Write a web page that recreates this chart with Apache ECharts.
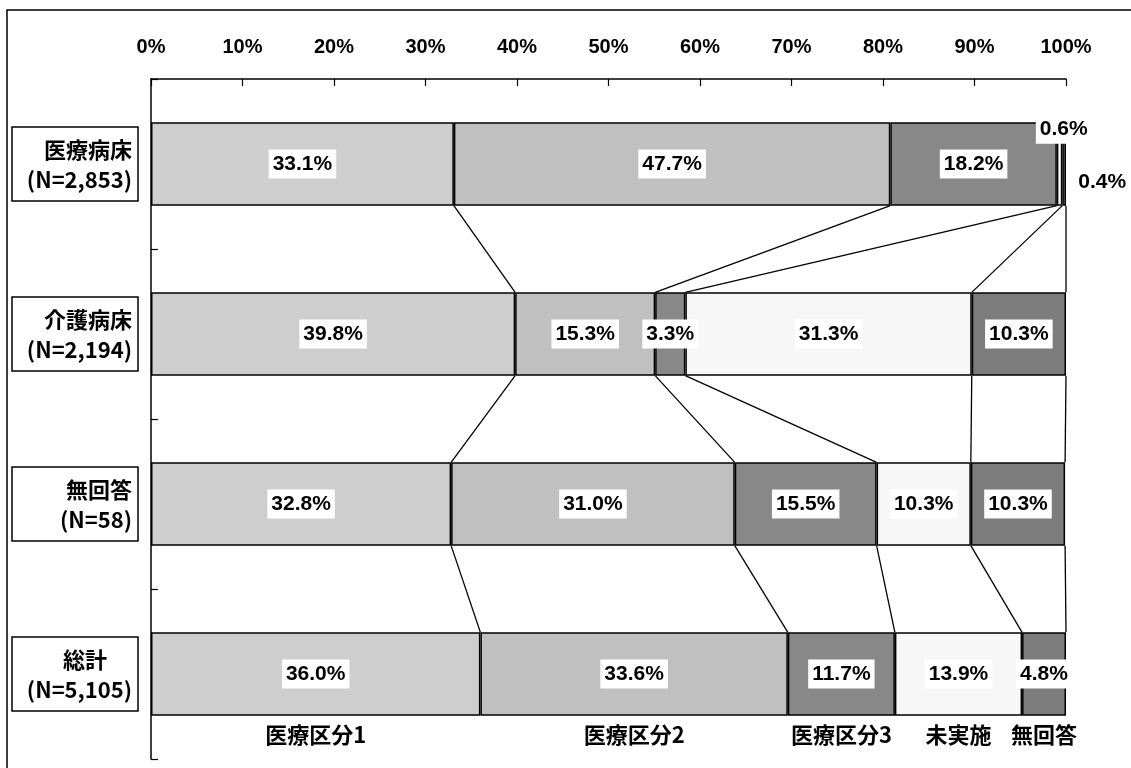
<!DOCTYPE html>
<html>
<head>
<meta charset="utf-8">
<script src="https://cdn.jsdelivr.net/npm/echarts@6/dist/echarts.min.js"></script>
<style>
html,body{margin:0;padding:0;background:#fff;}
#chart{width:1131px;height:768px;}
</style>
</head>
<body>
<div id="chart"></div>
<script>
// ---- data ----
const catNames = ['医療病床', '介護病床', '無回答', '総計'];
const catN = ['(N=2,853)', '(N=2,194)', '(N=58)', '(N=5,105)'];
const seriesNames = ['医療区分1', '医療区分2', '医療区分3', '未実施', '無回答'];
const kubun1 = [33.1, 39.8, 32.8, 36.0];
const kubun2 = [47.7, 15.3, 31.0, 33.6];
const kubun3 = [18.2, 3.3, 15.5, 11.7];
const mijisshi = [0.6, 31.3, 10.3, 13.9];
const mukaitou = [0.4, 10.3, 10.3, 4.8];
const xTicks = [0, 10, 20, 30, 40, 50, 60, 70, 80, 90, 100];

// ---- styling ----
const seriesValues = [kubun1, kubun2, kubun3, mijisshi, mukaitou];
const colors = ['#cecece', '#c0c0c0', '#888888', '#f7f7f7', '#7c7c7c'];
const BAR_RATIO = 0.49;
const NUM_FONT = '"Liberation Sans Narrow","Liberation Sans",Arial,sans-serif';
const JP_FONT = '"Noto Sans CJK JP","Noto Sans",sans-serif';

// per-item label overrides for the tiny segments (series index, category index)
const labelOverrides = {
  '3-0': { position: [-21, 7], align: 'left', verticalAlign: 'middle' },
  '4-0': { position: [12, 60], align: 'left', verticalAlign: 'middle', backgroundColor: 'transparent' }
};

const chart = echarts.init(document.getElementById('chart'), null, { renderer: 'canvas' });

// cumulative boundaries per category
const cum = catNames.map((_, ci) => {
  let s = 0;
  return seriesValues.map(v => (s += v[ci]));
});

const connectorData = [];
for (let ci = 0; ci < catNames.length - 1; ci++) {
  for (let k = 0; k < seriesValues.length; k++) {
    connectorData.push([cum[ci][k], cum[ci + 1][k], ci]);
  }
}

const last = catNames.length - 1;
const nameData = seriesValues.map((v, k) => {
  const end = cum[last][k];
  const start = end - v[last];
  return [(start + end) / 2, last, k];
});

const barSeries = seriesValues.map((vals, si) => ({
  name: seriesNames[si],
  type: 'bar',
  stack: 'total',
  barWidth: (BAR_RATIO * 100) + '%',
  itemStyle: { color: colors[si], borderColor: '#000', borderWidth: 1.5 },
  label: {
    show: true,
    position: 'inside',
    formatter: p => p.value.toFixed(1) + '%',
    color: '#000',
    fontFamily: NUM_FONT,
    fontWeight: 'bold',
    fontSize: 21,
    backgroundColor: '#fff',
    padding: [5, 4, 3, 4]
  },
  z: 3,
  data: vals.map((v, ci) => {
    const o = labelOverrides[si + '-' + ci];
    return o ? { value: v, label: o } : v;
  })
}));

const richBase = { fontFamily: JP_FONT, fontSize: 22, lineHeight: 30, color: '#000', fontWeight: 'bold', width: 114 };

const option = {
  animation: false,
  backgroundColor: '#fff',
  grid: { left: 151, right: 65, top: 79, bottom: 9, containLabel: false },
  xAxis: {
    type: 'value',
    position: 'top',
    min: 0, max: 100, interval: 10,
    axisLine: { show: true, lineStyle: { color: '#000', width: 1.5 } },
    axisTick: { show: true, inside: true, length: 7, lineStyle: { color: '#000', width: 1.2 } },
    splitLine: { show: false },
    axisLabel: {
      formatter: v => v + '%',
      color: '#000', fontFamily: NUM_FONT, fontWeight: 'bold', fontSize: 20, margin: 22
    }
  },
  yAxis: {
    type: 'category',
    inverse: true,
    data: catNames,
    axisLine: { show: true, lineStyle: { color: '#000', width: 1.5 } },
    axisTick: { show: true, inside: true, length: 7, lineStyle: { color: '#000', width: 1.2 } },
    axisLabel: {
      margin: 13,
      formatter: (v, i) => (i === last ? '{c|' : '{a|') + v + '}\n{b|' + catN[i] + '}',
      borderColor: '#000', borderWidth: 1.5,
      padding: [8, 6, 6, 6],
      width: 114,
      align: 'right',
      rich: {
        a: Object.assign({}, richBase, { align: 'right' }),
        b: Object.assign({}, richBase, { align: 'right' }),
        c: Object.assign({}, richBase, { align: 'center', padding: [0, 0, 0, 20] })
      }
    }
  },
  series: [
    ...barSeries,
    {
      type: 'custom',
      name: 'connectors',
      encode: { x: [0, 1], y: 2 },
      z: 2,
      silent: true,
      renderItem: (params, api) => {
        const ci = api.value(2);
        const p1 = api.coord([api.value(0), ci]);
        const p2 = api.coord([api.value(1), ci + 1]);
        const band = api.size([0, 1])[1];
        const half = band * BAR_RATIO / 2;
        return {
          type: 'line',
          shape: { x1: p1[0], y1: p1[1] + half, x2: p2[0], y2: p2[1] - half },
          style: { stroke: '#000', lineWidth: 1.3 }
        };
      },
      data: connectorData
    },
    {
      type: 'custom',
      name: 'seriesNames',
      encode: { x: 0, y: 1 },
      z: 4,
      silent: true,
      renderItem: (params, api) => {
        const p = api.coord([api.value(0), api.value(1)]);
        const band = api.size([0, 1])[1];
        const half = band * BAR_RATIO / 2;
        return {
          type: 'text',
          style: {
            text: seriesNames[api.value(2)],
            x: p[0], y: p[1] + half + 19,
            align: 'center', verticalAlign: 'middle',
            fill: '#000',
            font: 'bold 22px ' + JP_FONT
          }
        };
      },
      data: nameData
    }
  ],
  graphic: [
    {
      type: 'rect',
      shape: { x: 7, y: 10, width: 1200, height: 800 },
      style: { fill: 'none', stroke: '#000', lineWidth: 1.5 },
      silent: true, z: 0
    }
  ]
};

chart.setOption(option);
</script>
</body>
</html>
